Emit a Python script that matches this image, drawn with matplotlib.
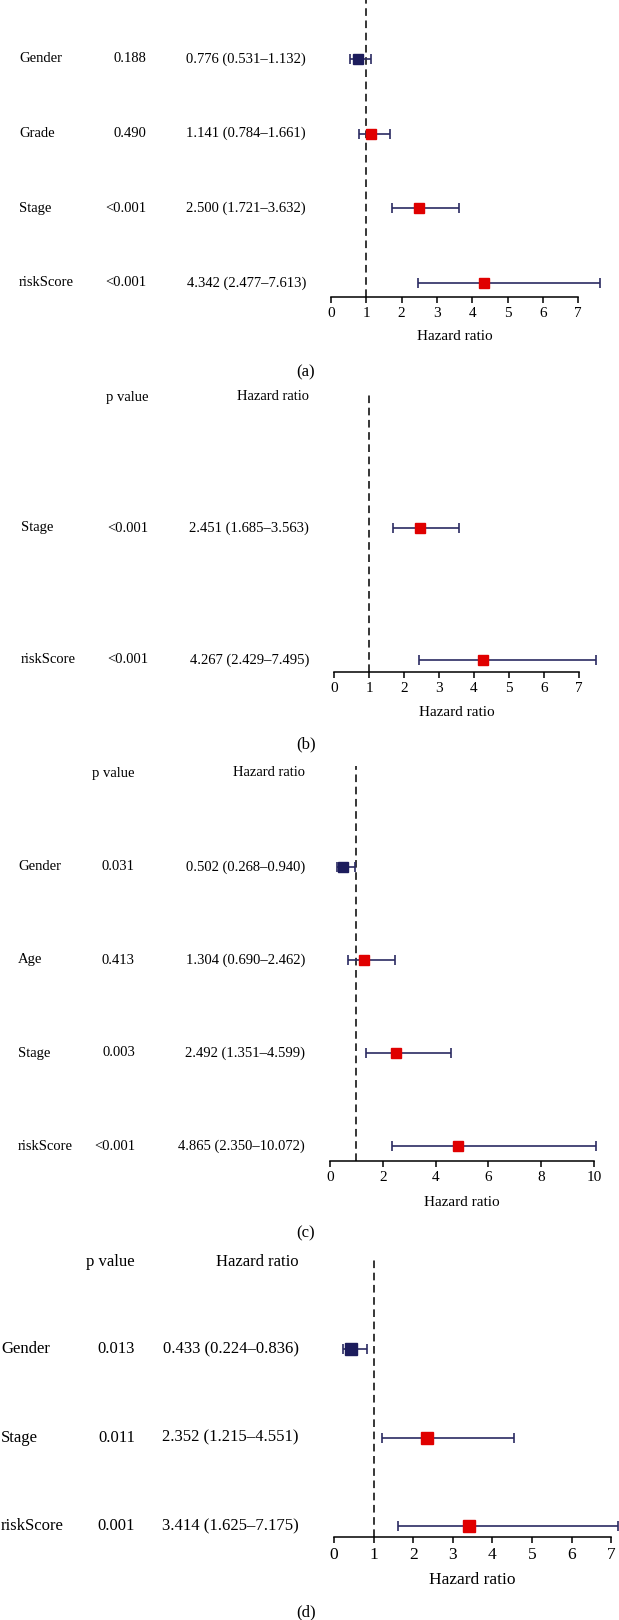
import numpy as np
import matplotlib
matplotlib.use("Agg")
import matplotlib.pyplot as plt
import matplotlib.transforms as mtransforms

# panel (a)
a_vars = ["Gender", "Grade", "Stage", "riskScore"]
a_p = ["0.188", "0.490", "<0.001", "<0.001"]
a_hr = [0.776, 1.141, 2.500, 4.342]
a_lo = [0.531, 0.784, 1.721, 2.477]
a_hi = [1.132, 1.661, 3.632, 7.613]
a_ticks = [0, 1, 2, 3, 4, 5, 6, 7]

# panel (b)
b_vars = ["Stage", "riskScore"]
b_p = ["<0.001", "<0.001"]
b_hr = [2.451, 4.267]
b_lo = [1.685, 2.429]
b_hi = [3.563, 7.495]
b_ticks = [0, 1, 2, 3, 4, 5, 6, 7]

# panel (c)
c_vars = ["Gender", "Age", "Stage", "riskScore"]
c_p = ["0.031", "0.413", "0.003", "<0.001"]
c_hr = [0.502, 1.304, 2.492, 4.865]
c_lo = [0.268, 0.690, 1.351, 2.350]
c_hi = [0.940, 2.462, 4.599, 10.072]
c_ticks = [0, 2, 4, 6, 8, 10]

# panel (d)
d_vars = ["Gender", "Stage", "riskScore"]
d_p = ["0.013", "0.011", "0.001"]
d_hr = [0.433, 2.352, 3.414]
d_lo = [0.224, 1.215, 1.625]
d_hi = [0.836, 4.551, 7.175]
d_ticks = [0, 1, 2, 3, 4, 5, 6, 7]

W, H = 619, 1620
NAVY = "#1c1c5c"
LINE = "#2b2b62"
RED = "#e00000"

plt.rcParams["font.family"] = ["Liberation Serif", "DejaVu Serif"]

fig = plt.figure(figsize=(W / 100, H / 100), dpi=100)


def forest(vars_, p, hr, lo, hi, ticks, tag, lay):
    n = len(vars_)
    rows = lay["rows"]
    spacing = (rows[-1] - rows[0]) / (n - 1)
    left, right = 305, W
    top, bottom = lay["top"], lay["axis"]
    ax = fig.add_axes([left / W, 1 - bottom / H, (right - left) / W, (bottom - top) / H])
    z, u = lay["zero"], lay["unit"]
    ax.set_xlim((left - z) / u, (right - z) / u)
    ax.set_ylim(-(bottom - rows[-1]) / spacing, (n - 1) + (rows[0] - top) / spacing)

    y = np.arange(n)[::-1]
    hr = np.array(hr)
    lo = np.array(lo)
    hi = np.array(hi)
    ax.axvline(1, color="black", lw=1.1, ls=(0, (5, 3)), zorder=1)
    ax.errorbar(hr, y, xerr=[hr - lo, hi - hr], fmt="none", ecolor=LINE,
                elinewidth=1.2, capsize=3.5, capthick=1.2, zorder=2)
    cols = [NAVY if v < 1 else RED for v in hr]
    for xi, yi, c in zip(hr, y, cols):
        ax.plot(xi, yi, marker="s", ms=lay["ms"], color=c, mec=c, zorder=3)

    for s in ["top", "right", "left"]:
        ax.spines[s].set_visible(False)
    ax.spines["bottom"].set_bounds(ticks[0], ticks[-1])
    ax.spines["bottom"].set_linewidth(1.1)
    ax.set_yticks([])
    ax.set_xticks(ticks)
    ax.tick_params(axis="x", length=4, width=1.1, pad=3, labelsize=lay["fs"] + 0.5)

    fs = lay["fs"]
    tr = mtransforms.blended_transform_factory(fig.transFigure, ax.transData)
    for yi, name, pv, h, l, u_ in zip(y, vars_, p, hr, lo, hi):
        ax.text(lay["lab_x"] / W, yi, name, transform=tr, ha="left", va="center", fontsize=fs)
        ax.text(lay["p_x"] / W, yi, pv, transform=tr, ha="right", va="center", fontsize=fs)
        ax.text(lay["hr_x"] / W, yi, f"{h:.3f} ({l:.3f}\u2013{u_:.3f})", transform=tr,
                ha="right", va="center", fontsize=fs)

    if lay["head"] is not None:
        fig.text(lay["p_x"] / W, 1 - lay["head"] / H, "p value", ha="right", va="center", fontsize=fs)
        fig.text(lay["hr_x"] / W, 1 - lay["head"] / H, "Hazard ratio", ha="right", va="center", fontsize=fs)

    trx = mtransforms.blended_transform_factory(ax.transData, fig.transFigure)
    ax.text((ticks[0] + ticks[-1]) / 2, 1 - lay["xlab"] / H, "Hazard ratio", transform=trx,
            ha="center", va="center", fontsize=fs + 0.5)
    fig.text(306 / W, 1 - lay["tag"] / H, tag, ha="center", va="center", fontsize=12)


forest(a_vars, a_p, a_hr, a_lo, a_hi, a_ticks, "(a)",
       dict(rows=[59, 134, 208, 283], top=0, axis=297, zero=331, unit=35.3,
            lab_x=19, p_x=146, hr_x=306, head=None, xlab=337, tag=372, fs=10.5, ms=7.5))
forest(b_vars, b_p, b_hr, b_lo, b_hi, b_ticks, "(b)",
       dict(rows=[528, 660], top=395, axis=672, zero=334, unit=35.0,
            lab_x=21, p_x=148, hr_x=309, head=397, xlab=713, tag=744, fs=10.5, ms=7.5))
forest(c_vars, c_p, c_hr, c_lo, c_hi, c_ticks, "(c)",
       dict(rows=[867, 959, 1053, 1146], top=766, axis=1161, zero=330, unit=26.4,
            lab_x=18, p_x=135, hr_x=305, head=773, xlab=1202, tag=1233, fs=10.5, ms=7.5))
forest(d_vars, d_p, d_hr, d_lo, d_hi, d_ticks, "(d)",
       dict(rows=[1349, 1437, 1526], top=1258, axis=1537, zero=334, unit=39.6,
            lab_x=1, p_x=135, hr_x=299, head=1262, xlab=1580, tag=1612, fs=12, ms=8.5))

fig.savefig("out.png", dpi=100)
